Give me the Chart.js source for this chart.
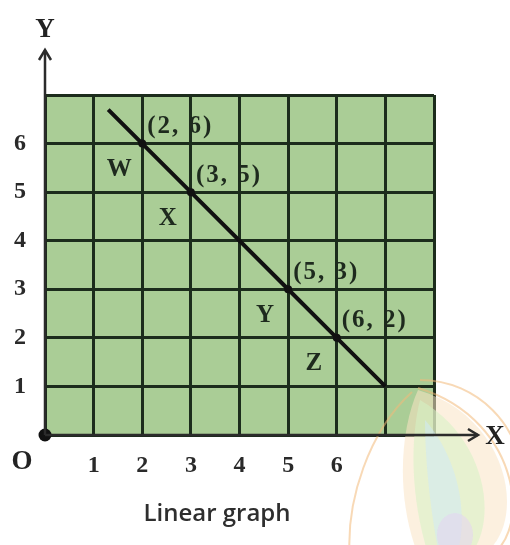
<!DOCTYPE html>
<html>
<head>
<meta charset="utf-8">
<script src="https://cdn.jsdelivr.net/npm/chart.js@4"></script>
<style>
  html, body { margin: 0; padding: 0; background: #fff; }
  #wrap { width: 510px; height: 545px; position: relative; }
</style>
</head>
<body>
<div id="wrap"><canvas id="graph" width="510" height="545"></canvas></div>
<script>
// line y = 8 - x, marked points and their names
const lineXs = [1.3, 2, 3, 5, 6, 7];
const lineYs = [6.7, 6, 5, 3, 2, 1];
const markedXs = [2, 3, 5, 6];
const markedYs = [6, 5, 3, 2];
const pointNames = ["W", "X", "Y", "Z"];
const xTickLabels = ["", "1", "2", "3", "4", "5", "6", "", ""];
const yTickLabels = ["", "1", "2", "3", "4", "5", "6", ""];

const SERIF = "'Liberation Serif', 'DejaVu Serif', serif";
const INK = "#1e2a1e";

// green paper behind the grid
const paperPlugin = {
  id: "paper",
  beforeDraw(chart) {
    const { ctx, chartArea: a } = chart;
    ctx.save();
    ctx.fillStyle = "#aacd96";
    ctx.fillRect(a.left, a.top, a.right - a.left, a.bottom - a.top);
    ctx.restore();
  },
};

// axes with arrows, point labels, title and the faint emblem
const annotatePlugin = {
  id: "annotate",
  afterDatasetsDraw(chart) {
    const { ctx, scales } = chart;
    const x0 = scales.x.getPixelForValue(0);
    const y0 = scales.y.getPixelForValue(0);
    ctx.save();

    // emblem in the corner
    ctx.globalAlpha = 0.55;
    ctx.beginPath();
    ctx.moveTo(418, 390);
    ctx.bezierCurveTo(520, 420, 530, 545, 470, 560);
    ctx.lineTo(420, 560);
    ctx.bezierCurveTo(395, 500, 400, 430, 418, 390);
    ctx.fillStyle = "#f9e3c4";
    ctx.fill();
    ctx.beginPath();
    ctx.moveTo(420, 400);
    ctx.bezierCurveTo(490, 440, 500, 530, 465, 560);
    ctx.lineTo(430, 560);
    ctx.bezierCurveTo(410, 500, 410, 440, 420, 400);
    ctx.fillStyle = "#d6f2c4";
    ctx.fill();
    ctx.beginPath();
    ctx.moveTo(425, 420);
    ctx.bezierCurveTo(460, 460, 470, 520, 455, 560);
    ctx.lineTo(440, 560);
    ctx.bezierCurveTo(430, 510, 425, 460, 425, 420);
    ctx.fillStyle = "#cfe9f6";
    ctx.fill();
    ctx.beginPath();
    ctx.ellipse(455, 535, 18, 22, 0, 0, Math.PI * 2);
    ctx.fillStyle = "#e3d3f3";
    ctx.fill();
    ctx.lineWidth = 2;
    ctx.strokeStyle = "#f2b97a";
    ctx.beginPath();
    ctx.moveTo(418, 388);
    ctx.bezierCurveTo(525, 420, 535, 545, 480, 560);
    ctx.stroke();
    ctx.beginPath();
    ctx.moveTo(412, 392);
    ctx.bezierCurveTo(370, 430, 345, 500, 350, 560);
    ctx.stroke();
    ctx.beginPath();
    ctx.moveTo(420, 380);
    ctx.bezierCurveTo(480, 380, 520, 430, 520, 470);
    ctx.stroke();
    ctx.globalAlpha = 1;

    ctx.strokeStyle = "#2b2b2b";
    ctx.fillStyle = "#2b2b2b";
    ctx.lineWidth = 2.5;
    // Y axis
    ctx.beginPath();
    ctx.moveTo(x0, y0);
    ctx.lineTo(x0, 50);
    ctx.stroke();
    ctx.beginPath();
    ctx.moveTo(x0 - 6, 60);
    ctx.lineTo(x0, 50);
    ctx.lineTo(x0 + 6, 60);
    ctx.stroke();
    // X axis
    ctx.beginPath();
    ctx.moveTo(x0, y0);
    ctx.lineTo(478, y0);
    ctx.stroke();
    ctx.beginPath();
    ctx.moveTo(468, y0 - 6);
    ctx.lineTo(478, y0);
    ctx.lineTo(468, y0 + 6);
    ctx.stroke();

    ctx.font = "bold 27px " + SERIF;
    ctx.textAlign = "center";
    ctx.textBaseline = "middle";
    ctx.fillStyle = "#222";
    ctx.fillText("Y", x0, 30);
    ctx.fillText("X", 495, y0 + 2);
    ctx.fillText("O", 22, 462);

    // coordinates and names beside the marked points
    ctx.font = "bold 25px " + SERIF;
    ctx.fillStyle = INK;
    markedXs.forEach((mx, i) => {
      const px = scales.x.getPixelForValue(mx);
      const py = scales.y.getPixelForValue(markedYs[i]);
      ctx.textAlign = "left";
      ctx.letterSpacing = "2px";
      ctx.fillText("(" + mx + ", " + markedYs[i] + ")", px + 5, py - 17);
      ctx.letterSpacing = "0px";
      ctx.textAlign = "center";
      ctx.fillText(pointNames[i], px - 23, py + 26);
    });

    ctx.font = "600 24px 'Open Sans', 'Noto Sans', sans-serif";
    ctx.fillStyle = "#2e2e2e";
    ctx.textAlign = "center";
    ctx.fillText("Linear graph", 217, 514);
    ctx.restore();
  },
};

const tickFont = { family: SERIF, size: 24, weight: "bold" };

new Chart(document.getElementById("graph"), {
  type: "scatter",
  data: {
    datasets: [
      {
        data: lineXs.map((x, i) => ({ x, y: lineYs[i] })),
        showLine: true,
        borderColor: "#111",
        borderWidth: 4,
        pointRadius: 0,
      },
      {
        data: markedXs.map((x, i) => ({ x, y: markedYs[i] })),
        pointRadius: 4,
        pointBackgroundColor: "#111",
        pointBorderWidth: 0,
      },
      {
        data: [{ x: 0, y: 0 }],
        pointRadius: 6.5,
        pointBackgroundColor: "#111",
        pointBorderWidth: 0,
        clip: false,
      },
    ],
  },
  options: {
    responsive: false,
    animation: false,
    layout: { padding: { left: 0, top: 95, right: 76, bottom: 0 } },
    plugins: { legend: { display: false }, tooltip: { enabled: false } },
    scales: {
      x: {
        type: "linear",
        min: 0,
        max: 8,
        afterFit: (s) => { s.height = 110; },
        afterBuildTicks: (s) => { s.ticks = xTickLabels.map((_, i) => ({ value: i })); },
        ticks: {
          padding: 16,
          color: "#2a2a2a",
          font: tickFont,
          maxRotation: 0,
          callback: (v) => xTickLabels[v] ?? "",
        },
        grid: { color: "#1c2c1c", lineWidth: 3, drawTicks: false },
        border: { display: false },
      },
      y: {
        type: "linear",
        min: 0,
        max: 7,
        afterFit: (s) => { s.width = 45; },
        afterBuildTicks: (s) => { s.ticks = yTickLabels.map((_, i) => ({ value: i })); },
        ticks: {
          padding: 19,
          color: "#2a2a2a",
          font: tickFont,
          callback: (v) => yTickLabels[v] ?? "",
        },
        grid: { color: "#1c2c1c", lineWidth: 3, drawTicks: false },
        border: { display: false },
      },
    },
  },
  plugins: [paperPlugin, annotatePlugin],
});
</script>
</body>
</html>
